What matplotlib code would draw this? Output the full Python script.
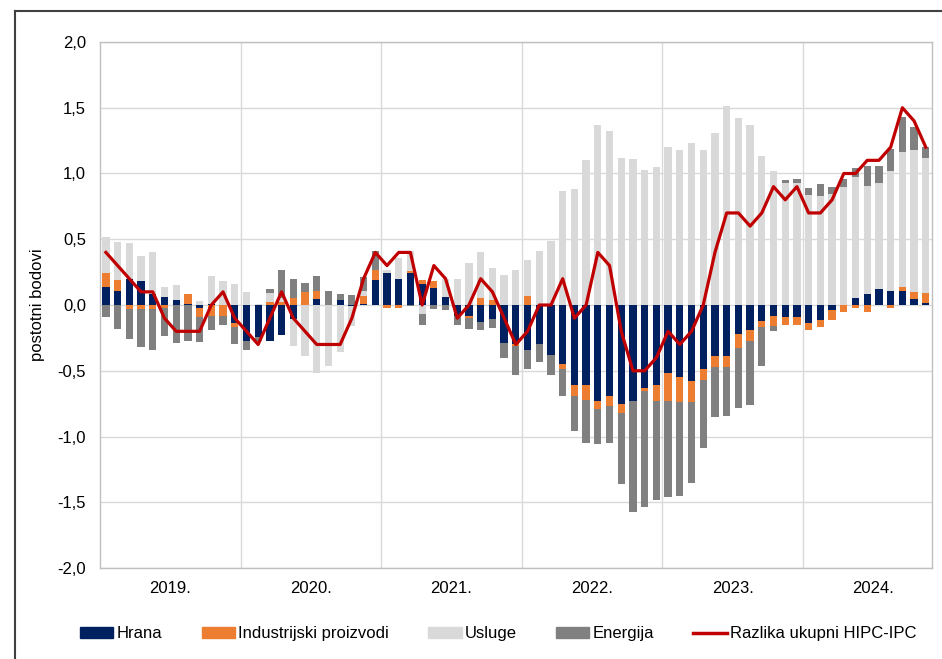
import numpy as np
import matplotlib
matplotlib.use('Agg')
import matplotlib.pyplot as plt
from matplotlib.patches import Patch
from matplotlib.lines import Line2D
from matplotlib.ticker import FuncFormatter

plt.rcParams['font.family'] = ['Liberation Sans', 'DejaVu Sans']

# mjesecni podaci, sijecanj 2019. - studeni 2024.
godine = ['2019.', '2020.', '2021.', '2022.', '2023.', '2024.']

hrana = [0.14, 0.11, 0.20, 0.18, 0.08, 0.06, 0.04, 0.01, -0.02, 0.01, 0.0, -0.14,
         -0.27, -0.24, -0.27, -0.23, -0.11, 0.0, 0.045, 0.0, 0.04, -0.01, 0.01, 0.19,
         0.24, 0.20, 0.24, 0.16, 0.13, 0.06, -0.08, -0.08, -0.13, -0.11, -0.29, -0.30,
         -0.34, -0.30, -0.38, -0.45, -0.61, -0.61, -0.73, -0.69, -0.75, -0.73, -0.63, -0.61,
         -0.52, -0.55, -0.58, -0.49, -0.39, -0.39, -0.22, -0.19, -0.12, -0.08, -0.09, -0.09,
         -0.135, -0.115, -0.04, 0.0, 0.055, 0.085, 0.12, 0.11, 0.11, 0.045, 0.015]
industrija = [0.10, 0.08, -0.03, -0.03, -0.03, -0.025, 0.0, 0.07, -0.07, -0.08, -0.08, -0.03,
              0.0, 0.0, 0.02, 0.02, 0.05, 0.10, 0.06, 0.0, 0.0, 0.0, 0.06, 0.08,
              -0.025, -0.025, 0.02, 0.03, 0.05, 0.0, 0.0, -0.02, 0.056, 0.04, 0.0, -0.01,
              0.07, 0.0, 0.0, -0.04, -0.08, -0.11, -0.06, -0.08, -0.07, 0.0, -0.025, -0.12,
              -0.21, -0.185, -0.16, -0.08, -0.08, -0.08, -0.11, -0.08, -0.05, -0.08, -0.06, -0.06,
              -0.055, -0.05, -0.075, -0.055, -0.025, -0.05, 0.0, -0.025, 0.03, 0.055, 0.08]
usluge = [0.28, 0.29, 0.27, 0.19, 0.32, 0.08, 0.11, 0.0, 0.03, 0.21, 0.18, 0.16,
          0.10, 0.01, 0.07, 0.03, -0.20, -0.39, -0.515, -0.46, -0.36, -0.15, 0.04, 0.0,
          0.03, 0.16, 0.15, -0.07, 0.0, 0.14, 0.20, 0.32, 0.35, 0.24, 0.23, 0.27,
          0.27, 0.41, 0.49, 0.87, 0.88, 1.10, 1.37, 1.32, 1.12, 1.11, 1.03, 1.05,
          1.20, 1.18, 1.23, 1.18, 1.31, 1.51, 1.42, 1.37, 1.13, 1.02, 0.93, 0.93,
          0.84, 0.83, 0.845, 0.90, 0.92, 0.82, 0.81, 0.91, 1.02, 1.08, 1.02]
energija = [-0.09, -0.18, -0.23, -0.29, -0.31, -0.21, -0.29, -0.27, -0.19, -0.11, -0.07, -0.13,
            -0.07, -0.03, 0.03, 0.22, 0.145, 0.07, 0.115, 0.105, 0.04, 0.075, 0.10, 0.14,
            0.0, 0.0, -0.01, -0.08, -0.03, -0.04, -0.07, -0.08, -0.06, -0.065, -0.11, -0.225,
            -0.15, -0.13, -0.15, -0.20, -0.27, -0.33, -0.27, -0.28, -0.54, -0.84, -0.88, -0.75,
            -0.73, -0.72, -0.61, -0.52, -0.38, -0.375, -0.45, -0.49, -0.29, -0.04, 0.02, 0.03,
            0.05, 0.09, 0.055, 0.055, 0.065, 0.15, 0.13, 0.17, 0.27, 0.17, 0.09]
razlika = [0.4, 0.3, 0.2, 0.1, 0.1, -0.1, -0.2, -0.2, -0.2, 0.0, 0.1, -0.1,
           -0.2, -0.3, -0.1, 0.1, -0.1, -0.2, -0.3, -0.3, -0.3, -0.1, 0.2, 0.4,
           0.3, 0.4, 0.4, 0.0, 0.3, 0.2, -0.1, 0.0, 0.2, 0.1, -0.1, -0.3,
           -0.2, 0.0, 0.0, 0.2, -0.1, 0.0, 0.4, 0.3, -0.2, -0.5, -0.5, -0.4,
           -0.2, -0.3, -0.2, 0.0, 0.4, 0.7, 0.7, 0.6, 0.7, 0.9, 0.8, 0.9,
           0.7, 0.7, 0.8, 1.0, 1.0, 1.1, 1.1, 1.2, 1.5, 1.4, 1.2]

serije = [('Hrana', hrana, '#002060'),
          ('Industrijski proizvodi', industrija, '#ED7D31'),
          ('Usluge', usluge, '#D9D9D9'),
          ('Energija', energija, '#808080')]

n = len(razlika)
x = np.arange(n)

fig = plt.figure(figsize=(9.42, 6.59), dpi=100)
ax = fig.add_axes([0.1062, 0.138, 0.8828, 0.7983])

pos_dno = np.zeros(n)
neg_dno = np.zeros(n)
for ime, vrijednosti, boja in serije:
    v = np.array(vrijednosti)
    dno = np.where(v >= 0, pos_dno, neg_dno)
    ax.bar(x, v, width=0.62, bottom=dno, color=boja, zorder=2)
    pos_dno = pos_dno + np.where(v >= 0, v, 0)
    neg_dno = neg_dno + np.where(v < 0, v, 0)

ax.plot(x, razlika, color='#C00000', lw=2.3, zorder=3)

ax.set_xlim(-0.5, n - 0.5)
ax.set_ylim(-2.0, 2.0)
ax.set_yticks(np.arange(-2.0, 2.01, 0.5))
ax.yaxis.set_major_formatter(FuncFormatter(lambda v, p: f'{v:.1f}'.replace('.', ',')))
ax.set_ylabel('postotni bodovi', fontsize=12, labelpad=9)

# granice godina i oznake u sredini godine
ax.set_xticks([12 * k - 0.5 for k in range(1, 6)])
ax.set_xticklabels([])
ax.set_xticks([12 * k + 5.5 for k in range(6)], minor=True)
ax.set_xticklabels(godine, minor=True)
ax.tick_params(axis='x', which='both', length=0, labelsize=12, pad=9)
ax.tick_params(axis='y', length=0, labelsize=12, pad=10)

ax.grid(True, which='major', color='#D9D9D9', lw=1.0, zorder=0)
for s in ax.spines.values():
    s.set_color('#BFBFBF')
    s.set_linewidth(1.0)

handles = [Patch(color=b) for _, _, b in serije]
handles.append(Line2D([], [], color='#C00000', lw=2.5))
labels = [s[0] for s in serije] + ['Razlika ukupni HIPC-IPC']
fig.legend(handles, labels, loc='center', bbox_to_anchor=(0.529, 0.038), ncol=5,
           frameon=False, fontsize=12, handlelength=2.0, handleheight=0.7,
           handletextpad=0.2, columnspacing=2.35)

# okvir slike (gore i lijevo)
fig.add_artist(Line2D([15 / 942, 1.0], [1 - 11 / 659, 1 - 11 / 659], color='#404040', lw=1.5))
fig.add_artist(Line2D([15 / 942, 15 / 942], [0.0, 1 - 11 / 659], color='#404040', lw=1.5))

fig.savefig('out.png', dpi=100)
